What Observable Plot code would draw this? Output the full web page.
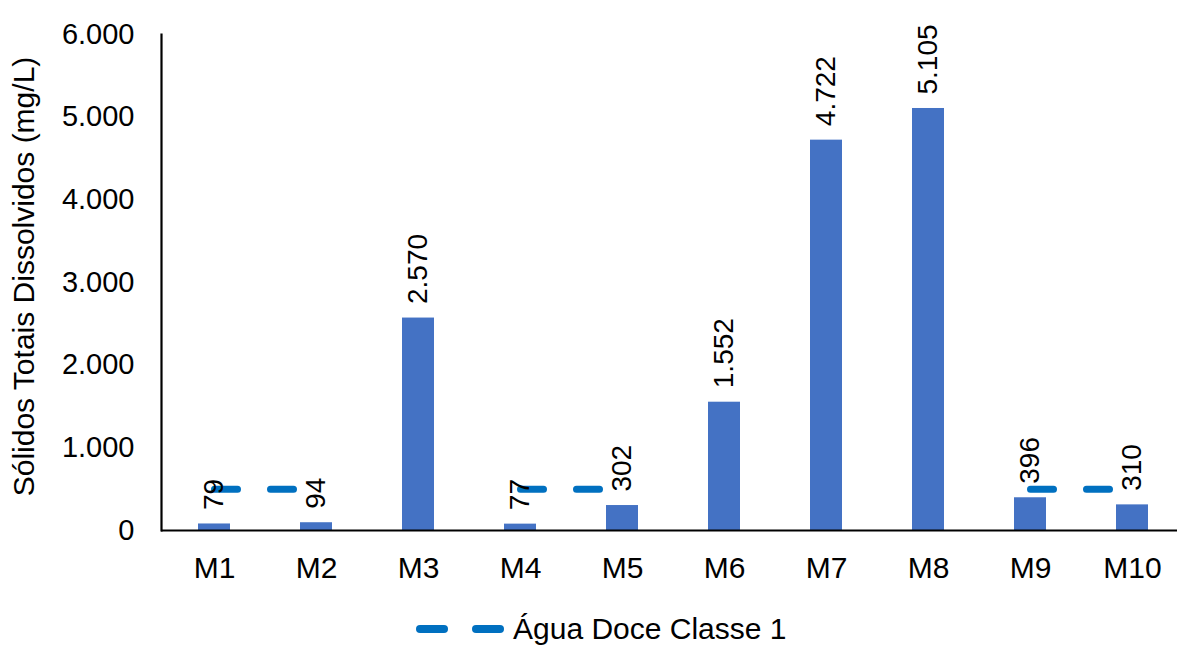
<!DOCTYPE html>
<html><head><meta charset="utf-8">
<script src="https://cdn.jsdelivr.net/npm/d3@7"></script>
<script src="https://cdn.jsdelivr.net/npm/@observablehq/plot@0.6"></script>
<style>
html,body{margin:0;padding:0;background:#fff;}
#wrap{position:relative;width:1177px;height:646px;overflow:hidden;font-family:"Liberation Sans",Arial,sans-serif;background:#fff;}
#legend{position:absolute;left:416px;top:609px;height:40px;display:flex;align-items:center;font-size:30px;line-height:32px;color:#000;white-space:nowrap;}
.sw{display:inline-block;width:32px;height:8px;border-radius:4px;background:#0070C0;}
</style></head><body>
<div id="wrap"><div id="chart"></div>
<div id="legend"><span class="sw"></span><span class="sw" style="margin-left:24px"></span><span id="legtext" style="margin-left:9px"></span></div>
</div>
<script>
const categories = ["M1","M2","M3","M4","M5","M6","M7","M8","M9","M10"];
const values = [79,94,2570,77,302,1552,4722,5105,396,310];
const limitValues = [500,500,null,500,500,null,null,null,500,500];
const yTicks = [0,1000,2000,3000,4000,5000,6000];
const yTitle = "Sólidos Totais Dissolvidos (mg/L)";
const legendLabel = "Água Doce Classe 1";

const fmt = d3.formatLocale({decimal: ",", thousands: ".", grouping: [3], currency: ["R$", ""]}).format(",d");
const rows = categories.map((c, i) => ({cat: c, value: values[i], limit: limitValues[i]}));

document.getElementById("legtext").textContent = legendLabel;

const chart = Plot.plot({
  width: 1177,
  height: 609,
  marginLeft: 161,
  marginRight: 0,
  marginTop: 34,
  marginBottom: 79,
  style: {fontFamily: "'Liberation Sans', Arial, sans-serif", fontSize: "29px", color: "#000", background: "#fff"},
  x: {domain: categories, range: [161, 1185], paddingInner: 0.6875, paddingOuter: 0.34375, label: null},
  y: {domain: [0, 6000], label: null},
  marks: [
    Plot.lineY(rows, {x: "cat", y: "limit", stroke: "#0070C0", strokeWidth: 7, strokeLinecap: "round", strokeDasharray: "23,33"}),
    Plot.barY(rows, {x: "cat", y: "value", fill: "#4472C4"}),
    Plot.text(rows, {x: "cat", y: "value", text: d => fmt(d.value), rotate: -90, textAnchor: "start", dy: -14, fontSize: 28, fill: "#000"}),
    Plot.axisY({ticks: yTicks, tickFormat: fmt, tickSize: 0, tickPadding: 27, fontSize: 29, label: null}),
    Plot.axisX({tickSize: 0, tickPadding: 26, fontSize: 30, label: null}),
    Plot.text([yTitle], {frameAnchor: "left", text: d => d, rotate: -90, textAnchor: "middle", lineAnchor: "middle", dx: -137, dy: -6, fontSize: 30, fill: "#000"}),
    Plot.frame({anchor: "left", strokeWidth: 2.2, stroke: "#000"}),
    Plot.ruleY([0], {strokeWidth: 2.2, stroke: "#000"})
  ]
});
document.getElementById("chart").appendChild(chart);
</script>
</body></html>
